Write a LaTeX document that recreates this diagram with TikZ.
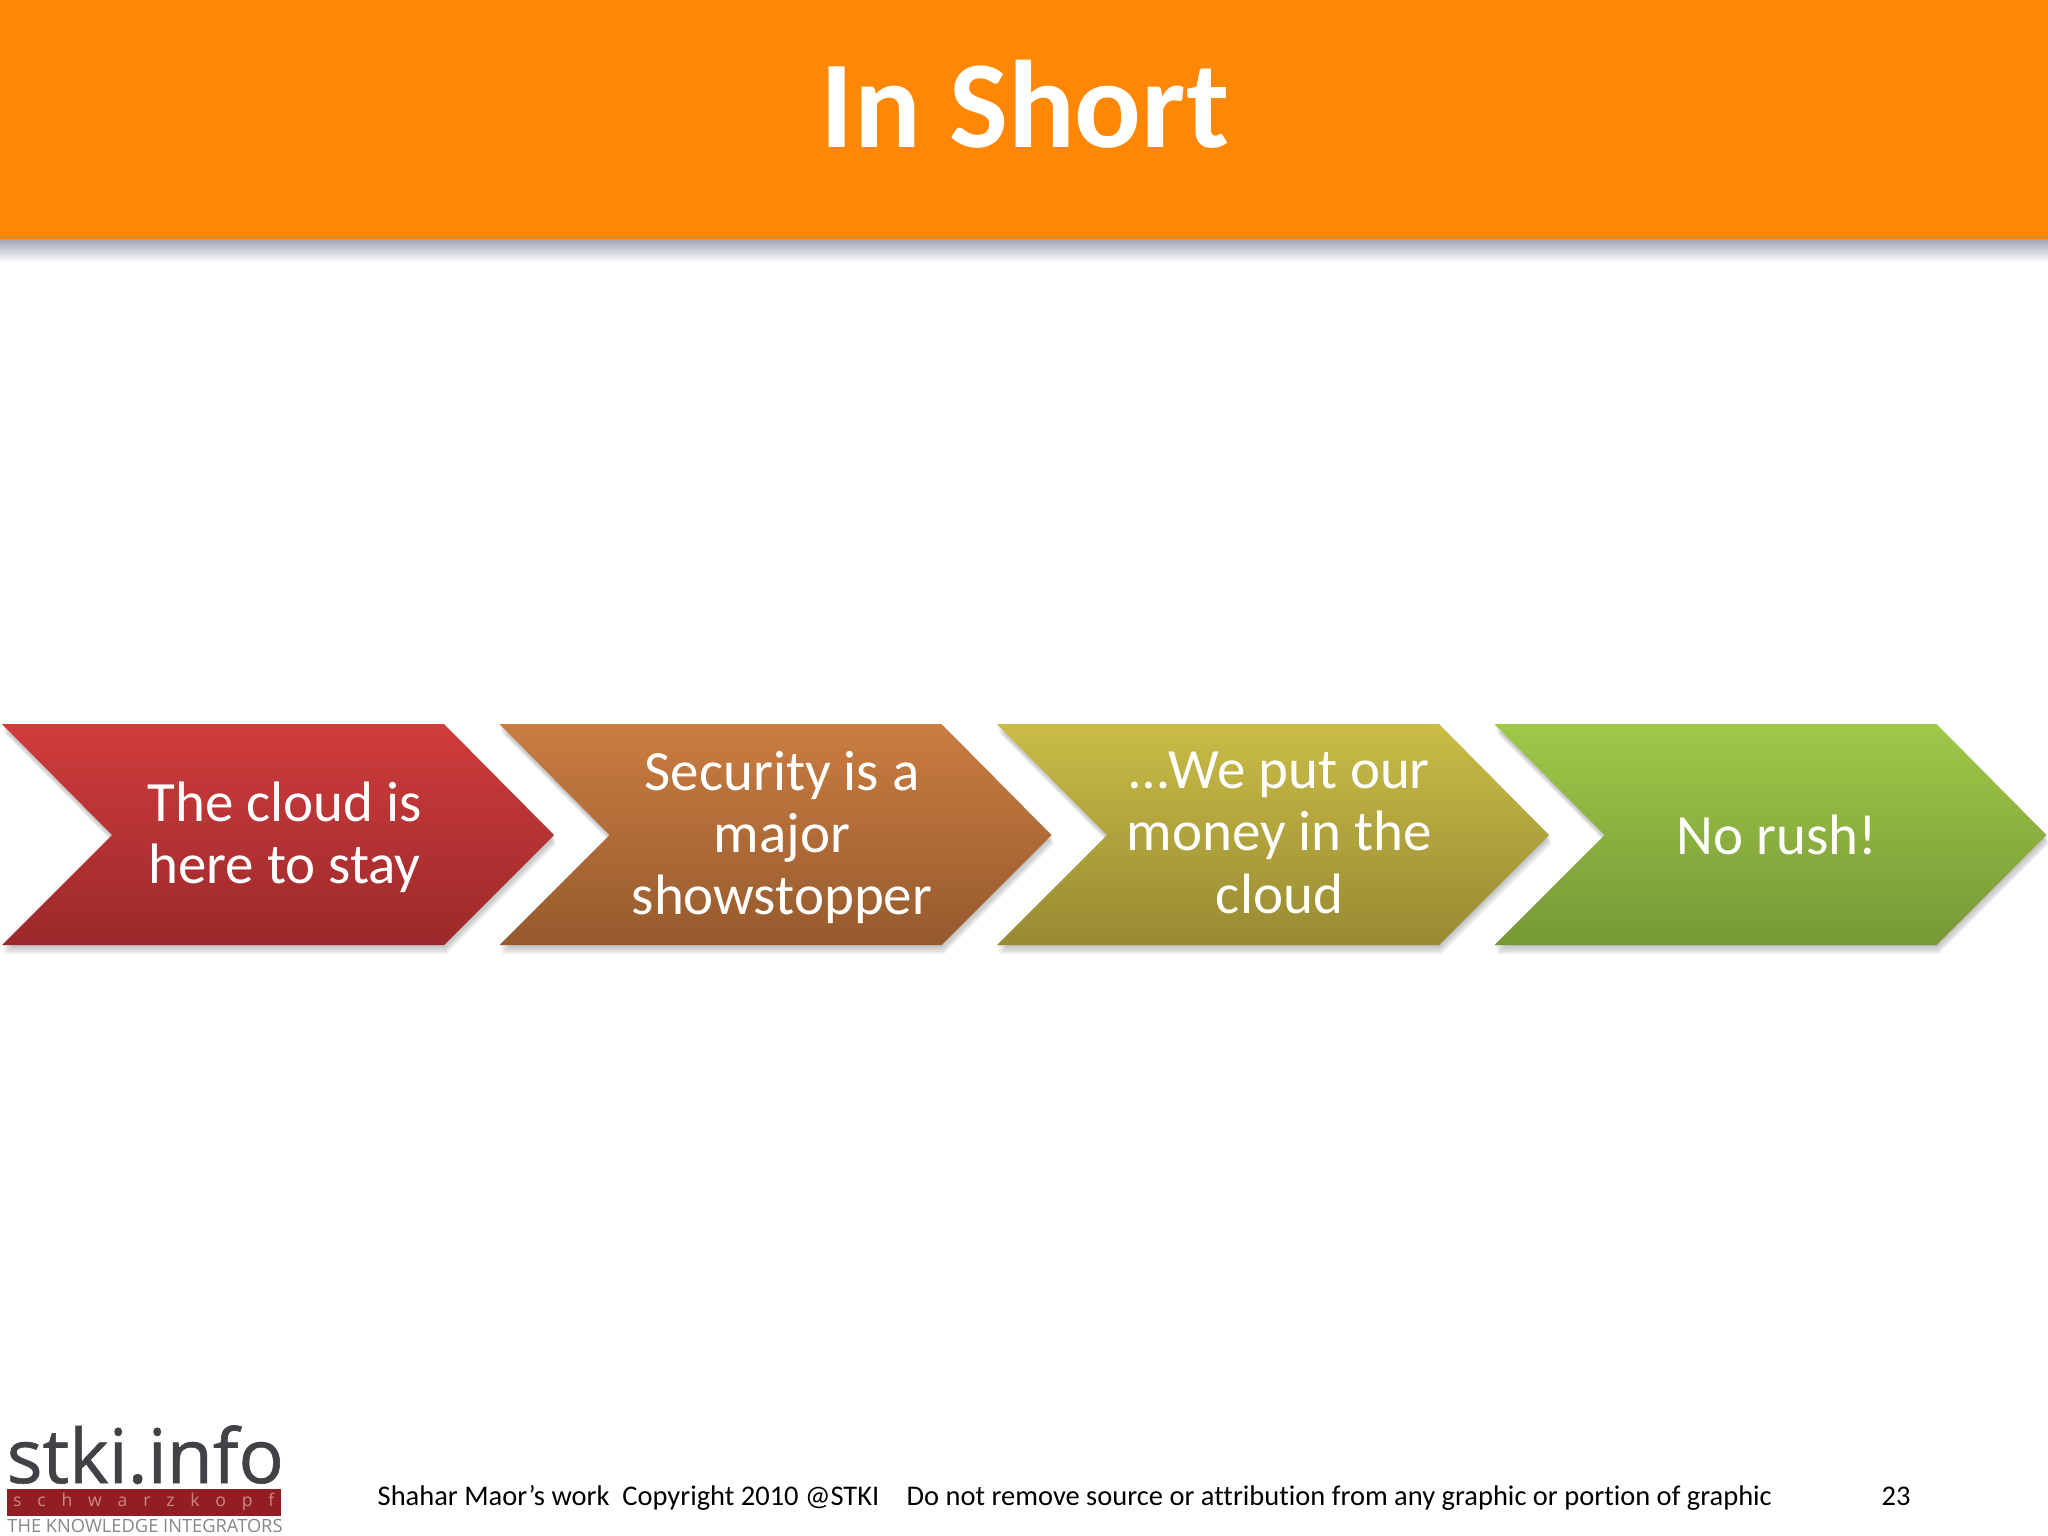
\documentclass[tikz,border=0pt]{standalone}
\usepackage{fontspec}
\setmainfont[Ligatures=CommonOff]{Carlito}
\newfontfamily\logofont{Open Sans}
\newfontfamily\logomark[FakeBold=0.8]{Open Sans}
\definecolor{stkiorange}{RGB}{255,135,6}
\definecolor{stkired}{RGB}{146,30,36}
\definecolor{stkipink}{RGB}{205,135,135}
\definecolor{stkidark}{RGB}{66,66,70}
\definecolor{stkigrey}{RGB}{135,135,140}
\definecolor{shadowtop}{RGB}{160,165,185}
\definecolor{shadowmid}{RGB}{225,218,210}
\definecolor{redtop}{RGB}{208,60,60}
\definecolor{redmid}{RGB}{188,52,54}
\definecolor{redbot}{RGB}{155,41,43}
\definecolor{browntop}{RGB}{202,125,65}
\definecolor{brownmid}{RGB}{182,112,58}
\definecolor{brownbot}{RGB}{150,90,45}
\definecolor{olivetop}{RGB}{202,188,70}
\definecolor{olivemid}{RGB}{184,170,62}
\definecolor{olivebot}{RGB}{152,138,50}
\definecolor{greentop}{RGB}{160,200,72}
\definecolor{greenmid}{RGB}{144,180,66}
\definecolor{greenbot}{RGB}{118,152,54}
\tikzset{
  steptext/.style={text=white, align=center, font=\fontsize{16.2}{17.7}\selectfont,
    execute at begin node=\strut, execute at end node=\strut},
  footertext/.style={text=black, anchor=base west, inner sep=0pt, font=\fontsize{8.1}{10}\selectfont}
}
\begin{document}
\begin{tikzpicture}[x=0.01cm, y=-0.01cm]
\useasboundingbox (0,0) rectangle (2048,1536);
\fill[white] (0,0) rectangle (2048,1536);
% Header
\shade[top color=shadowtop, middle color=shadowmid, bottom color=white] (0,239) rectangle (2048,262);
\fill[stkiorange] (0,0) rectangle (2048,239);
\node[text=white, font=\fontsize{35.4}{42}\selectfont\bfseries] (title) at (1025,104) {In Short};
% Steps
\foreach \name/\lft/\col/\txt in {
  cloud/2/red/{The cloud is\\here to stay},
  security/499.5/brown/{Security is a\\major\\showstopper},
  money/997/olive/{\dots We put our\\money in the\\cloud},
  rush/1494.5/green/{No rush!}} {
  \foreach \d in {1,3,5,7,9}
    \fill[gray, opacity=0.12] (\lft+\d/4,724+\d) -- ++(442,0) -- ++(110,111) -- ++(-110,110) -- ++(-442,0) -- ++(110,-110) -- cycle;
  \shade[top color=\col top, middle color=\col mid, bottom color=\col bot] (\lft,724) -- ++(442,0) -- ++(110,111) -- ++(-110,110) -- ++(-442,0) -- ++(110,-110) -- cycle;
  \node[steptext] (\name) at (\lft+282.5,842) {\txt};
}
% Logo
\node[text=stkidark, font=\logomark\fontsize{21.4}{24}\selectfont, anchor=base west, inner sep=0pt] (logotext) at (6,1483) {stki.info};
\node[fill=stkired, minimum width=2.74cm, minimum height=0.27cm, inner sep=0pt, anchor=north west] (logobar) at (6,1488) {};
\node[text=stkipink, inner sep=0pt, font=\logofont\fontsize{5}{6}\selectfont] (logoname) at (logobar.center) {s\hspace{.9em}c\hspace{.9em}h\hspace{.9em}w\hspace{.9em}a\hspace{.9em}r\hspace{.9em}z\hspace{.9em}k\hspace{.9em}o\hspace{.9em}p\hspace{.9em}f};
\node[text=stkigrey, inner sep=0pt, font=\logofont\fontsize{5.2}{6}\selectfont] (logotag) at (145,1526) {THE KNOWLEDGE INTEGRATORS};
% Footer
\node[footertext] (credit) at (377,1505) {Shahar Maor’s work\ \ Copyright 2010 @STKI};
\node[footertext] (notice) at (906,1505) {Do not remove source or attribution from any graphic or portion of graphic};
\node[footertext] (page) at (1881,1505) {23};
\end{tikzpicture}
\end{document}
